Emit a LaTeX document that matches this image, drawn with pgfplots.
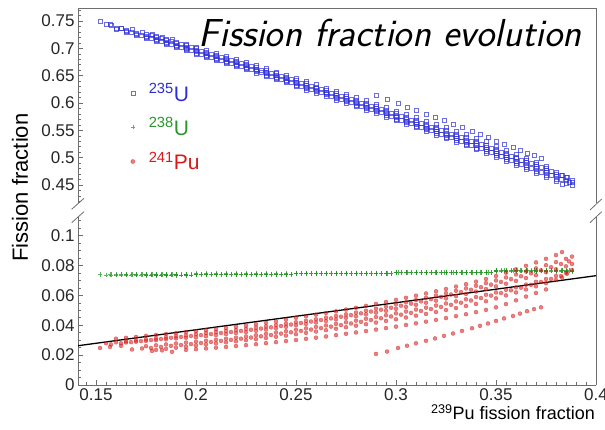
\documentclass[border=0pt]{standalone}
\usepackage{fontspec}
\setmainfont{Liberation Sans}
\usepackage{pgfplots}
\usepackage{pgfplotstable}
\pgfplotsset{compat=1.18}
\definecolor{cblue}{RGB}{45,45,215}
\definecolor{cgreen}{RGB}{40,150,40}
\definecolor{cred}{RGB}{215,25,25}
\definecolor{axgray}{RGB}{110,110,110}

% columns: 239Pu fraction, 241Pu, 235U, 238U
\pgfplotstableread{
x r b g
0.160 0.0310 0.7352 0.0741
0.165 0.0316 0.7296 0.0741
0.170 0.0322 0.7240 0.0741
0.175 0.0329 0.7183 0.0741
0.180 0.0335 0.7127 0.0741
0.185 0.0341 0.7071 0.0741
0.190 0.0347 0.7015 0.0741
0.195 0.0354 0.6958 0.0741
0.200 0.0360 0.6898 0.0745
0.205 0.0367 0.6841 0.0745
0.210 0.0374 0.6784 0.0745
0.215 0.0382 0.6726 0.0745
0.220 0.0390 0.6668 0.0745
0.225 0.0398 0.6610 0.0745
0.230 0.0407 0.6551 0.0745
0.235 0.0416 0.6492 0.0745
0.240 0.0425 0.6433 0.0745
0.245 0.0437 0.6371 0.0745
0.250 0.0450 0.6302 0.0751
0.255 0.0460 0.6242 0.0751
0.260 0.0471 0.6181 0.0751
0.265 0.0482 0.6120 0.0751
0.270 0.0493 0.6059 0.0751
0.275 0.0505 0.5997 0.0751
0.280 0.0517 0.5935 0.0751
0.285 0.0530 0.5872 0.0751
0.290 0.0543 0.5809 0.0751
0.295 0.0556 0.5746 0.0751
0.300 0.0570 0.5675 0.0758
0.305 0.0584 0.5611 0.0758
0.310 0.0598 0.5547 0.0758
0.315 0.0613 0.5482 0.0758
0.320 0.0628 0.5417 0.0758
0.325 0.0643 0.5352 0.0758
0.330 0.0659 0.5286 0.0758
0.335 0.0675 0.5220 0.0758
0.340 0.0692 0.5153 0.0758
0.345 0.0710 0.5085 0.0758
0.350 0.0730 0.5005 0.0768
0.355 0.0752 0.4933 0.0768
0.360 0.0775 0.4860 0.0768
0.365 0.0798 0.4787 0.0768
0.370 0.0821 0.4714 0.0768
0.375 0.0845 0.4640 0.0768
0.380 0.0870 0.4565 0.0768
0.383 0.0890 0.4515 0.0768
0.155 0.0280 0.7432 0.0736
0.160 0.0286 0.7376 0.0736
0.165 0.0292 0.7320 0.0736
0.170 0.0298 0.7264 0.0736
0.175 0.0305 0.7207 0.0736
0.180 0.0311 0.7151 0.0736
0.185 0.0318 0.7094 0.0736
0.190 0.0325 0.7037 0.0736
0.195 0.0332 0.6980 0.0736
0.200 0.0340 0.6918 0.0740
0.205 0.0347 0.6861 0.0740
0.210 0.0354 0.6804 0.0740
0.215 0.0361 0.6747 0.0740
0.220 0.0368 0.6690 0.0740
0.225 0.0376 0.6632 0.0740
0.230 0.0384 0.6574 0.0740
0.235 0.0392 0.6516 0.0740
0.240 0.0401 0.6457 0.0740
0.245 0.0410 0.6398 0.0740
0.250 0.0420 0.6332 0.0746
0.255 0.0430 0.6272 0.0746
0.260 0.0440 0.6212 0.0746
0.265 0.0451 0.6151 0.0746
0.270 0.0462 0.6090 0.0746
0.275 0.0473 0.6029 0.0746
0.280 0.0485 0.5967 0.0746
0.285 0.0497 0.5905 0.0746
0.290 0.0510 0.5842 0.0746
0.295 0.0524 0.5778 0.0746
0.300 0.0540 0.5705 0.0753
0.305 0.0554 0.5641 0.0753
0.310 0.0569 0.5576 0.0753
0.315 0.0584 0.5511 0.0753
0.320 0.0599 0.5446 0.0753
0.325 0.0615 0.5380 0.0753
0.330 0.0631 0.5314 0.0753
0.335 0.0647 0.5248 0.0753
0.340 0.0664 0.5181 0.0753
0.345 0.0682 0.5113 0.0753
0.350 0.0700 0.5035 0.0763
0.355 0.0720 0.4965 0.0763
0.360 0.0740 0.4895 0.0763
0.365 0.0760 0.4825 0.0763
0.370 0.0781 0.4754 0.0763
0.375 0.0802 0.4683 0.0763
0.380 0.0823 0.4612 0.0763
0.385 0.0845 0.4540 0.0763
0.388 0.0860 0.4495 0.0763
0.165 0.0285 0.7327 0.0739
0.170 0.0290 0.7272 0.0739
0.175 0.0295 0.7217 0.0739
0.180 0.0300 0.7162 0.0739
0.185 0.0306 0.7106 0.0739
0.190 0.0312 0.7050 0.0739
0.195 0.0316 0.6996 0.0739
0.200 0.0320 0.6938 0.0743
0.205 0.0327 0.6881 0.0743
0.210 0.0334 0.6824 0.0743
0.215 0.0341 0.6767 0.0743
0.220 0.0348 0.6710 0.0743
0.225 0.0355 0.6653 0.0743
0.230 0.0363 0.6595 0.0743
0.235 0.0371 0.6537 0.0743
0.240 0.0380 0.6478 0.0743
0.245 0.0390 0.6418 0.0743
0.250 0.0400 0.6352 0.0749
0.255 0.0409 0.6293 0.0749
0.260 0.0419 0.6233 0.0749
0.265 0.0429 0.6173 0.0749
0.270 0.0439 0.6113 0.0749
0.275 0.0450 0.6052 0.0749
0.280 0.0461 0.5991 0.0749
0.285 0.0473 0.5929 0.0749
0.290 0.0485 0.5867 0.0749
0.295 0.0497 0.5805 0.0749
0.300 0.0510 0.5735 0.0756
0.305 0.0523 0.5672 0.0756
0.310 0.0537 0.5608 0.0756
0.315 0.0551 0.5544 0.0756
0.320 0.0565 0.5480 0.0756
0.325 0.0580 0.5415 0.0756
0.330 0.0595 0.5350 0.0756
0.335 0.0610 0.5285 0.0756
0.340 0.0626 0.5219 0.0756
0.345 0.0643 0.5152 0.0756
0.350 0.0660 0.5075 0.0766
0.355 0.0678 0.5007 0.0766
0.360 0.0697 0.4938 0.0766
0.365 0.0716 0.4869 0.0766
0.370 0.0735 0.4800 0.0766
0.375 0.0755 0.4730 0.0766
0.380 0.0775 0.4660 0.0766
0.385 0.0795 0.4590 0.0766
0.388 0.0810 0.4545 0.0766
0.175 0.0260 0.7252 0.0735
0.180 0.0266 0.7196 0.0735
0.185 0.0272 0.7140 0.0735
0.190 0.0278 0.7084 0.0735
0.195 0.0284 0.7028 0.0735
0.200 0.0290 0.6968 0.0739
0.205 0.0296 0.6912 0.0739
0.210 0.0303 0.6855 0.0739
0.215 0.0310 0.6798 0.0739
0.220 0.0317 0.6741 0.0739
0.225 0.0325 0.6683 0.0739
0.230 0.0333 0.6625 0.0739
0.235 0.0342 0.6566 0.0739
0.240 0.0351 0.6507 0.0739
0.245 0.0360 0.6448 0.0739
0.250 0.0370 0.6382 0.0745
0.255 0.0379 0.6323 0.0745
0.260 0.0389 0.6263 0.0745
0.265 0.0399 0.6203 0.0745
0.270 0.0409 0.6143 0.0745
0.275 0.0420 0.6082 0.0745
0.280 0.0431 0.6021 0.0745
0.285 0.0443 0.5959 0.0745
0.290 0.0455 0.5897 0.0745
0.295 0.0467 0.5835 0.0745
0.300 0.0480 0.5765 0.0752
0.305 0.0492 0.5703 0.0752
0.310 0.0505 0.5640 0.0752
0.315 0.0518 0.5577 0.0752
0.320 0.0532 0.5513 0.0752
0.325 0.0546 0.5449 0.0752
0.330 0.0560 0.5385 0.0752
0.335 0.0574 0.5321 0.0752
0.340 0.0589 0.5256 0.0752
0.345 0.0604 0.5191 0.0752
0.350 0.0620 0.5115 0.0762
0.355 0.0637 0.5048 0.0762
0.360 0.0654 0.4981 0.0762
0.365 0.0672 0.4913 0.0762
0.370 0.0691 0.4844 0.0762
0.375 0.0710 0.4775 0.0762
0.380 0.0730 0.4705 0.0762
0.385 0.0750 0.4635 0.0762
0.388 0.0770 0.4585 0.0762
0.180 0.0235 0.7227 0.0740
0.185 0.0242 0.7170 0.0740
0.190 0.0250 0.7112 0.0740
0.195 0.0257 0.7055 0.0740
0.200 0.0265 0.6993 0.0744
0.205 0.0272 0.6936 0.0744
0.210 0.0279 0.6879 0.0744
0.215 0.0286 0.6822 0.0744
0.220 0.0293 0.6765 0.0744
0.225 0.0300 0.6708 0.0744
0.230 0.0307 0.6651 0.0744
0.235 0.0315 0.6593 0.0744
0.240 0.0323 0.6535 0.0744
0.245 0.0331 0.6477 0.0744
0.250 0.0340 0.6412 0.0750
0.255 0.0349 0.6353 0.0750
0.260 0.0358 0.6294 0.0750
0.265 0.0367 0.6235 0.0750
0.270 0.0377 0.6175 0.0750
0.275 0.0387 0.6115 0.0750
0.280 0.0397 0.6055 0.0750
0.285 0.0407 0.5995 0.0750
0.290 0.0418 0.5934 0.0750
0.295 0.0429 0.5873 0.0750
0.300 0.0440 0.5805 0.0757
0.305 0.0452 0.5743 0.0757
0.310 0.0464 0.5681 0.0757
0.315 0.0476 0.5619 0.0757
0.320 0.0489 0.5556 0.0757
0.325 0.0502 0.5493 0.0757
0.330 0.0515 0.5430 0.0757
0.335 0.0529 0.5366 0.0757
0.340 0.0543 0.5302 0.0757
0.345 0.0561 0.5234 0.0757
0.350 0.0580 0.5155 0.0767
0.355 0.0600 0.5085 0.0767
0.360 0.0620 0.5015 0.0767
0.365 0.0640 0.4945 0.0767
0.370 0.0661 0.4874 0.0767
0.375 0.0682 0.4803 0.0767
0.380 0.0703 0.4732 0.0767
0.383 0.0720 0.4685 0.0767
0.195 0.0235 0.7077 0.0737
0.200 0.0240 0.7018 0.0741
0.205 0.0245 0.6963 0.0741
0.210 0.0250 0.6908 0.0741
0.215 0.0255 0.6853 0.0741
0.220 0.0261 0.6797 0.0741
0.225 0.0267 0.6741 0.0741
0.230 0.0273 0.6685 0.0741
0.235 0.0280 0.6628 0.0741
0.240 0.0287 0.6571 0.0741
0.245 0.0294 0.6514 0.0741
0.250 0.0301 0.6451 0.0747
0.255 0.0309 0.6393 0.0747
0.260 0.0317 0.6335 0.0747
0.265 0.0325 0.6277 0.0747
0.270 0.0334 0.6218 0.0747
0.275 0.0343 0.6159 0.0747
0.280 0.0352 0.6100 0.0747
0.285 0.0361 0.6041 0.0747
0.290 0.0371 0.5981 0.0747
0.295 0.0381 0.5921 0.0747
0.300 0.0391 0.5854 0.0754
0.305 0.0402 0.5793 0.0754
0.310 0.0413 0.5732 0.0754
0.315 0.0424 0.5671 0.0754
0.320 0.0436 0.5609 0.0754
0.325 0.0448 0.5547 0.0754
0.330 0.0461 0.5484 0.0754
0.335 0.0474 0.5421 0.0754
0.340 0.0488 0.5357 0.0754
0.345 0.0503 0.5292 0.0754
0.350 0.0520 0.5215 0.0764
0.355 0.0542 0.5143 0.0764
0.360 0.0567 0.5068 0.0764
0.365 0.0592 0.4993 0.0764
0.370 0.0616 0.4919 0.0764
0.375 0.0640 0.4845 0.0764
0.1575 0.0272 0.7415 0.0738
0.1625 0.0279 0.7358 0.0738
0.1675 0.0287 0.7300 0.0738
0.1725 0.0294 0.7243 0.0738
0.1775 0.0301 0.7186 0.0738
0.1825 0.0308 0.7129 0.0738
0.1875 0.0316 0.7071 0.0738
0.1925 0.0322 0.7015 0.0738
0.1975 0.0328 0.6959 0.0738
0.2025 0.0334 0.6899 0.0742
0.2075 0.0341 0.6842 0.0742
0.2125 0.0348 0.6785 0.0742
0.2175 0.0355 0.6728 0.0742
0.2225 0.0362 0.6671 0.0742
0.2275 0.0370 0.6613 0.0742
0.2325 0.0378 0.6555 0.0742
0.2375 0.0386 0.6497 0.0742
0.2425 0.0395 0.6438 0.0742
0.2475 0.0405 0.6378 0.0742
0.2525 0.0415 0.6312 0.0748
0.2575 0.0425 0.6252 0.0748
0.2625 0.0435 0.6192 0.0748
0.2675 0.0446 0.6131 0.0748
0.2725 0.0457 0.6070 0.0748
0.2775 0.0468 0.6009 0.0748
0.2825 0.0480 0.5947 0.0748
0.2875 0.0492 0.5885 0.0748
0.2925 0.0504 0.5823 0.0748
0.2975 0.0517 0.5760 0.0748
0.3025 0.0531 0.5689 0.0755
0.3075 0.0545 0.5625 0.0755
0.3125 0.0560 0.5560 0.0755
0.3175 0.0575 0.5495 0.0755
0.3225 0.0590 0.5430 0.0755
0.3275 0.0606 0.5364 0.0755
0.3325 0.0622 0.5298 0.0755
0.3375 0.0638 0.5232 0.0755
0.3425 0.0655 0.5165 0.0755
0.3475 0.0672 0.5098 0.0755
0.3525 0.0690 0.5020 0.0765
0.3575 0.0709 0.4951 0.0765
0.3625 0.0728 0.4882 0.0765
0.3675 0.0748 0.4812 0.0765
0.3725 0.0768 0.4742 0.0765
0.3775 0.0789 0.4671 0.0765
0.3825 0.0810 0.4600 0.0765
0.3865 0.0828 0.4542 0.0765
0.1775 0.0248 0.7239 0.0737
0.1825 0.0255 0.7182 0.0737
0.1875 0.0262 0.7125 0.0737
0.1925 0.0268 0.7069 0.0737
0.1975 0.0274 0.7013 0.0737
0.2025 0.0281 0.6952 0.0741
0.2075 0.0288 0.6895 0.0741
0.2125 0.0295 0.6838 0.0741
0.2175 0.0302 0.6781 0.0741
0.2225 0.0310 0.6723 0.0741
0.2275 0.0318 0.6665 0.0741
0.2325 0.0326 0.6607 0.0741
0.2375 0.0335 0.6548 0.0741
0.2425 0.0344 0.6489 0.0741
0.2475 0.0353 0.6430 0.0741
0.2525 0.0362 0.6365 0.0747
0.2575 0.0371 0.6306 0.0747
0.2625 0.0381 0.6246 0.0747
0.2675 0.0391 0.6186 0.0747
0.2725 0.0401 0.6126 0.0747
0.2775 0.0412 0.6065 0.0747
0.2825 0.0423 0.6004 0.0747
0.2875 0.0435 0.5942 0.0747
0.2925 0.0447 0.5880 0.0747
0.2975 0.0459 0.5818 0.0747
0.3025 0.0471 0.5749 0.0754
0.3075 0.0483 0.5687 0.0754
0.3125 0.0496 0.5624 0.0754
0.3175 0.0509 0.5561 0.0754
0.3225 0.0523 0.5497 0.0754
0.3275 0.0537 0.5433 0.0754
0.3325 0.0551 0.5369 0.0754
0.3375 0.0566 0.5304 0.0754
0.3425 0.0582 0.5238 0.0754
0.3475 0.0599 0.5171 0.0754
0.3525 0.0616 0.5094 0.0764
0.3575 0.0634 0.5026 0.0764
0.3625 0.0652 0.4958 0.0764
0.3675 0.0671 0.4889 0.0764
0.3725 0.0690 0.4820 0.0764
0.3775 0.0710 0.4750 0.0764
0.3825 0.0730 0.4680 0.0764
0.3855 0.0745 0.4635 0.0764
0.2900 0.0208 0.6144 0.0748
0.2955 0.0224 0.6073 0.0748
0.3010 0.0248 0.5987 0.0755
0.3055 0.0263 0.5927 0.0755
0.3100 0.0279 0.5866 0.0755
0.3150 0.0296 0.5799 0.0755
0.3195 0.0312 0.5738 0.0755
0.3240 0.0329 0.5676 0.0755
0.3285 0.0345 0.5615 0.0755
0.3330 0.0362 0.5553 0.0755
0.3380 0.0380 0.5485 0.0755
0.3420 0.0396 0.5429 0.0755
0.3460 0.0412 0.5373 0.0755
0.3500 0.0429 0.5306 0.0765
0.3540 0.0446 0.5249 0.0765
0.3585 0.0462 0.5188 0.0765
0.3620 0.0478 0.5137 0.0765
0.3655 0.0494 0.5086 0.0765
0.3690 0.0508 0.5037 0.0765
0.3725 0.0520 0.4990 0.0765
0.1520 0.0248 0.7494 0.0739
0.1570 0.0255 0.7437 0.0739
0.1625 0.0262 0.7375 0.0739
0.1680 0.0238 0.7344 0.0739
0.1730 0.0245 0.7287 0.0739
0.1780 0.0228 0.7254 0.0739
0.1830 0.0232 0.7200 0.0739
0.1880 0.0222 0.7160 0.0739
}\data

\pgfplotsset{
  common/.style={
    scale only axis, width=518pt,
    xmin=0.141, xmax=0.4,
    separate axis lines,
    x axis line style={draw=none},
    y axis line style={draw=axgray, line width=0.8pt},
    tick style={draw=axgray, line width=0.6pt},
    major tick length=5pt, minor tick length=3pt,
    tick align=inside,
    xtick pos=left, ytick pos=left,
    ticklabel style={font=\fontsize{17}{20}\selectfont, text=black!85},
    /pgf/number format/.cd, fixed, precision=3, assume math mode=true, /pgfplots/.cd,
    scaled ticks=false,
    anchor=south west,
  },
  ptlegend/.style 2 args={legend image code/.code={%
    \path[draw=none, fill=none] (-8pt,0pt) rectangle (15pt,0.1pt);
    \draw[only marks, mark=#2, mark size=2pt, line width=0.6pt, draw=#1, fill=#1, color=#1] plot coordinates {(0pt,0pt)};}},
  bluepts/.style={only marks, mark=square, mark size=2pt, color=cblue,
    mark options={draw=cblue, draw opacity=0.7, line width=0.55pt}, ptlegend={cblue}{square}},
  greenpts/.style={only marks, mark=+, mark size=2.3pt, color=cgreen,
    mark options={draw=cgreen, draw opacity=0.75, line width=0.55pt}, ptlegend={cgreen}{+}},
  redpts/.style={only marks, mark=*, mark size=2pt, color=cred,
    mark options={draw=cred, fill=cred, opacity=0.55}, ptlegend={cred}{*}},
}

\begin{document}
\begin{tikzpicture}
\useasboundingbox (-78pt,-45pt) rectangle (527pt,385pt);

% upper part
\begin{axis}[common, at={(0pt,182pt)}, height=195pt,
  ymin=0.4171, ymax=0.7738,
  xtick=\empty,
  ytick={0.45,0.5,0.55,0.6,0.65,0.7,0.75},
  minor ytick={0.42,0.43,0.44,0.46,0.47,0.48,0.49,0.51,0.52,0.53,0.54,0.56,0.57,0.58,0.59,0.61,0.62,0.63,0.64,0.66,0.67,0.68,0.69,0.71,0.72,0.73,0.74,0.76,0.77},
  legend style={at={(0.09,0.62)}, anchor=north west, draw=none, fill=none,
    font=\fontsize{21}{24}\selectfont, row sep=13pt, inner sep=0pt,
    nodes={inner sep=1pt}},
  legend cell align=left,
]
\addplot[bluepts] table[x=x, y=b] {\data};
\addlegendentry{\textcolor{cblue}{\textsuperscript{235}U}}
\addlegendimage{greenpts}
\addlegendentry{\textcolor{cgreen}{\textsuperscript{238}U}}
\addlegendimage{redpts}
\addlegendentry{\textcolor{cred}{\textsuperscript{241}Pu}}
\end{axis}

% lower part
\begin{axis}[common, at={(0pt,0pt)}, height=168pt,
  ymin=0, ymax=0.1125,
  xtick={0.15,0.2,0.25,0.3,0.35,0.4},
  minor xtick={0.145,0.155,0.16,0.165,0.17,0.175,0.18,0.185,0.19,0.195,0.205,0.21,0.215,0.22,0.225,0.23,0.235,0.24,0.245,0.255,0.26,0.265,0.27,0.275,0.28,0.285,0.29,0.295,0.305,0.31,0.315,0.32,0.325,0.33,0.335,0.34,0.345,0.355,0.36,0.365,0.37,0.375,0.38,0.385,0.39,0.395},
  ytick={0,0.02,0.04,0.06,0.08,0.1},
  minor ytick={0.005,0.01,0.015,0.025,0.03,0.035,0.045,0.05,0.055,0.065,0.07,0.075,0.085,0.09,0.095,0.105,0.11},
]
\addplot[greenpts] table[x=x, y=g] {\data};
\addplot[redpts] table[x=x, y=r] {\data};
\addplot[black, line width=1.3pt] coordinates {(0.141,0.0263) (0.4,0.0732)};
\end{axis}

% frame pieces and axis break marks
\draw[axgray, line width=0.8pt] (0pt,377pt) -- (518pt,377pt);
\draw[axgray, line width=0.8pt] (0pt,0pt) -- (518pt,0pt);
\draw[axgray, line width=0.8pt] (-6.3pt,175.7pt) -- (6pt,186.7pt);
\draw[axgray, line width=0.8pt] (-6.3pt,162.3pt) -- (6pt,173.3pt);
\draw[axgray, line width=0.8pt] (512pt,175pt) -- (523.7pt,186pt);
\draw[axgray, line width=0.8pt] (512pt,162.3pt) -- (523.7pt,173.3pt);

% texts
\node[anchor=base east, font=\sffamily\itshape\fontsize{39}{43}\selectfont] at (507pt,338.3pt) {Fission fraction evolution};
\node[rotate=90, font=\fontsize{22}{25}\selectfont] at (-58pt,197.5pt) {Fission fraction};
\node[anchor=base east, inner sep=0pt, font=\fontsize{18}{21}\selectfont] at (517pt,-34.5pt) {\textsuperscript{239}Pu fission fraction};
\end{tikzpicture}
\end{document}
